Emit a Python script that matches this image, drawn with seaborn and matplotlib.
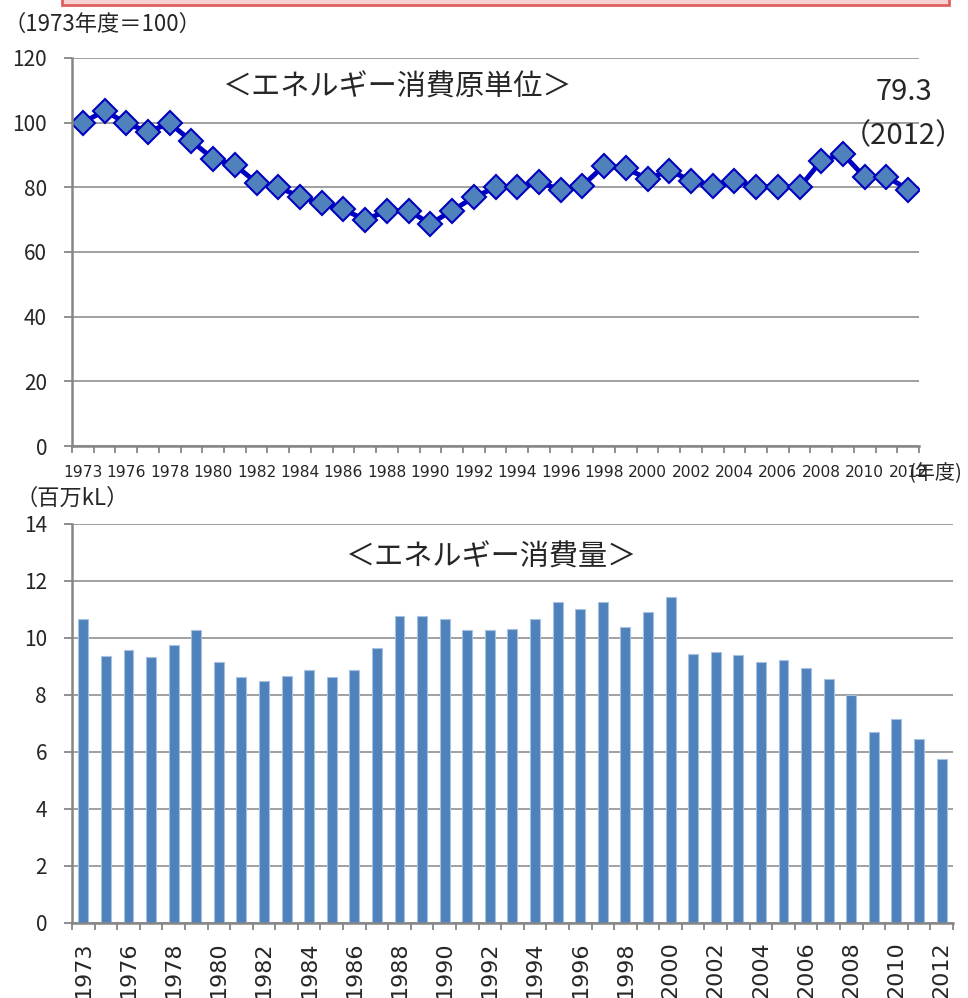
"""Energy intensity (1973=100) and energy consumption, 1973-2012."""
import matplotlib
matplotlib.use("Agg")
import matplotlib.pyplot as plt
import numpy as np
import seaborn as sns
from matplotlib.patches import Rectangle

years = [1973, 1975, 1976, 1977, 1978, 1979, 1980, 1981, 1982, 1983,
         1984, 1985, 1986, 1987, 1988, 1989, 1990, 1991, 1992, 1993,
         1994, 1995, 1996, 1997, 1998, 1999, 2000, 2001, 2002, 2003,
         2004, 2005, 2006, 2007, 2008, 2009, 2010, 2011, 2012]

# energy intensity index (1973 = 100)
intensity = [100.0, 103.7, 99.8, 97.2, 99.8, 94.3, 88.8, 86.9, 81.4, 80.0,
             77.1, 75.0, 73.2, 69.9, 72.8, 72.8, 68.7, 72.8, 76.9, 80.0,
             80.0, 81.5, 79.3, 80.5, 86.7, 85.9, 82.6, 85.2, 82.1, 80.5,
             82.1, 80.2, 80.2, 80.0, 88.2, 90.3, 83.1, 83.3, 79.3]

# energy consumption (million kL)
consumption = [10.68, 9.37, 9.58, 9.32, 9.75, 10.27, 9.16, 8.63, 8.49, 8.68,
               8.89, 8.64, 8.89, 9.63, 10.77, 10.76, 10.68, 10.27, 10.29, 10.30,
               10.65, 11.26, 11.03, 11.25, 10.39, 10.91, 11.42, 9.42, 9.49, 9.40,
               9.16, 9.24, 8.95, 8.57, 8.00, 6.70, 7.17, 6.44, 5.77]

year_labels = [str(y) for y in years]

sns.set_style("white")
plt.rcParams["font.family"] = ["Noto Sans CJK JP", "DejaVu Sans"]

GRID = "#868686"
BAR = "#4F81BD"
LINE = "#0000C0"

fig = plt.figure(figsize=(9.68, 9.98), dpi=100)
ax1 = fig.add_axes([0.0744, 0.5531, 0.875, 0.3888])
ax2 = fig.add_axes([0.0744, 0.0752, 0.910, 0.3998])

pos = np.arange(len(years))

sns.lineplot(x=pos, y=intensity, ax=ax1, color=LINE, linewidth=3.5,
             marker="D", markersize=12.5, markerfacecolor=BAR,
             markeredgecolor=LINE, markeredgewidth=1.5)

sns.barplot(x=year_labels, y=consumption, ax=ax2, color=BAR, saturation=1,
            width=0.44, edgecolor="#A9C1E0", linewidth=0.8)


def style_axes(ax, ymax, ystep, label_kw, pad):
    ax.set_xlim(-0.5, len(years) - 0.5)
    ax.set_ylim(0, ymax)
    ax.set_yticks(np.arange(0, ymax + 0.1, ystep))
    ax.yaxis.grid(True, color=GRID, linewidth=1.1)
    ax.xaxis.grid(False)
    ax.set_axisbelow(True)
    for side in ("top", "right"):
        ax.spines[side].set_visible(False)
    for side in ("left", "bottom"):
        ax.spines[side].set_color(GRID)
        ax.spines[side].set_linewidth(1.8)
    ax.set_xticks(pos[::2], year_labels[::2], **label_kw)
    ax.set_xticks(np.arange(-0.5, len(years)), minor=True)
    ax.tick_params(axis="x", which="major", length=0, pad=pad, bottom=True)
    ax.tick_params(axis="x", which="minor", length=5, width=1.3, color=GRID,
                   direction="out", bottom=True)
    ax.tick_params(axis="y", length=6, width=1.3, color=GRID, direction="out",
                   left=True, pad=12, labelsize=15)
    ax.set_xlabel("")
    ax.set_ylabel("")


style_axes(ax1, 120, 20, dict(fontfamily="DejaVu Sans", fontsize=11.2), 13.5)
style_axes(ax2, 14, 2, dict(fontfamily="DejaVu Sans", fontsize=16, rotation=90), 13)

ax1.text(0.384, 0.925, "＜エネルギー消費原単位＞", transform=ax1.transAxes,
         ha="center", va="center", fontsize=21)
ax1.text(0.982, 0.912, "79.3", transform=ax1.transAxes,
         ha="center", va="center", fontsize=21)
ax1.text(0.982, 0.799, "（2012）", transform=ax1.transAxes,
         ha="center", va="center", fontsize=21)
ax2.text(0.476, 0.917, "＜エネルギー消費量＞", transform=ax2.transAxes,
         ha="center", va="center", fontsize=21)

fig.text(0.004, 0.976, "（1973年度＝100）", ha="left", va="center", fontsize=16)
fig.text(0.966, 0.526, "(年度)", ha="center", va="center", fontsize=14.5)
fig.text(0.016, 0.501, "（百万kL）", ha="left", va="center", fontsize=16)

# cut-off red frame at the very top
fig.add_artist(Rectangle((62 / 968, 1 - 5 / 998), 887 / 968, 0.05,
                         transform=fig.transFigure, facecolor="#F4D2D2",
                         edgecolor="#E06060", linewidth=2))

fig.savefig("out.png", dpi=100)
